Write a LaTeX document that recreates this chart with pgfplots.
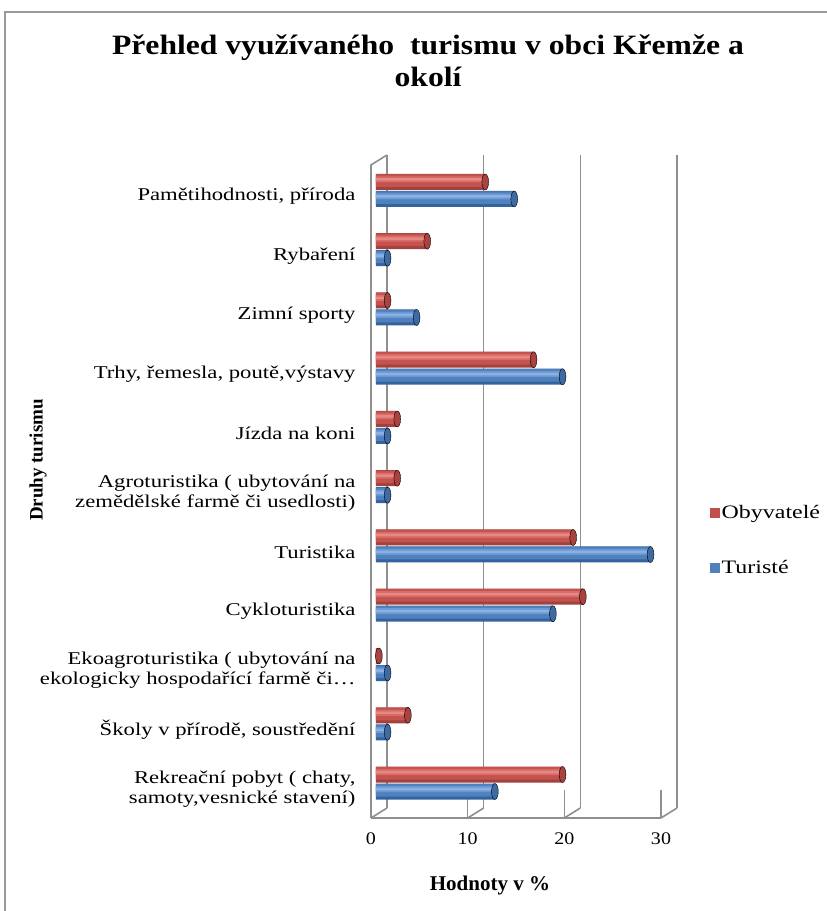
\documentclass[border=0pt]{standalone}
\usepackage{pgfplots}
\usepackage{pgfplotstable}
\pgfplotsset{compat=1.18}
\usepackage{fontspec}
\setmainfont{Liberation Serif}
\newfontfamily\labfont{Liberation Serif}[FakeStretch=1.26]
\newfontfamily\tickfont{Liberation Serif}[FakeStretch=1.13]
\newfontfamily\titlefont{Liberation Serif}[FakeStretch=1.13]

\definecolor{redA}{HTML}{A3413E}
\definecolor{redB}{HTML}{C4524F}
\definecolor{redC}{HTML}{D96B67}
\definecolor{redD}{HTML}{E68985}
\definecolor{redcap}{HTML}{A8433F}
\definecolor{blueA}{HTML}{36639D}
\definecolor{blueB}{HTML}{4F81BD}
\definecolor{blueC}{HTML}{6C99D3}
\definecolor{blueD}{HTML}{8BB1E3}
\definecolor{bluecap}{HTML}{3D6BA6}
\definecolor{gridgray}{HTML}{8F8F8F}
\definecolor{legred}{HTML}{C0504D}
\definecolor{legblue}{HTML}{4F81BD}

\pgfplotstableread{
idx obyv tur
0 19.3 12.3
1 3.3 1.2
2 0.3 1.2
3 21.4 18.3
4 20.4 28.4
5 2.2 1.2
6 2.2 1.2
7 16.3 19.3
8 1.2 4.2
9 5.3 1.2
10 11.3 14.3
}\data

\begin{document}
\begin{tikzpicture}
\useasboundingbox (0,0) rectangle (827pt,911pt);
\fill[white] (0,0) rectangle (827pt,911pt);
\draw[gray!80, line width=2pt] (4.5pt,0) -- (4.5pt,899pt) -- (827pt,899pt);
\node[font=\titlefont\bfseries\fontsize{28}{32}\selectfont, align=center] at (428pt,850pt) {Přehled využívaného~ turismu v obci Křemže a\\okolí};
\node[rotate=90, font=\bfseries\fontsize{19}{22}\selectfont] at (38pt,451pt) {Druhy turismu};
\node[font=\bfseries\fontsize{21}{24}\selectfont] at (490pt,26pt) {Hodnoty v \%};
\begin{axis}[
  at={(376pt,96pt)}, anchor=south west,
  width=290pt, height=653pt, scale only axis,
  xmin=0, xmax=30, ymin=-0.54, ymax=10.481,
  axis line style={draw=none},
  xtick={0,10,20,30}, xticklabels={0,10,20,30},
  ytick={0,1,2,3,4,5,6,7,8,9,10},
  yticklabels={{Rekreační pobyt ( chaty,\\samoty,vesnické stavení)},
    {Školy v přírodě, soustředění},
    {Ekoagroturistika ( ubytování na\\ekologicky hospodařící farmě či…},
    {Cykloturistika},
    {Turistika},
    {Agroturistika ( ubytování na\\zemědělské farmě či usedlosti)},
    {Jízda na koni},
    {Trhy, řemesla, poutě,výstavy},
    {Zimní sporty},
    {Rybaření},
    {Pamětihodnosti, příroda}},
  major tick length=0pt, tick style={draw=none},
  xticklabel style={font=\tickfont\fontsize{17.7}{20}\selectfont, xshift=-5pt, yshift=-14pt},
  yticklabel style={font=\labfont\fontsize{18}{20}\selectfont, align=right, xshift=-17pt, yshift=-6pt},
  clip=false,
  legend style={at={(1.152,0.4204)}, anchor=west, draw=none, fill=none, inner sep=0pt, row sep=36pt,
    font=\labfont\fontsize{19}{20}\selectfont},
  legend cell align=left,
]
\pgfplotsinvokeforeach{0,10,20,30}{
  \draw[gridgray, line width=1.6pt] ([xshift=11pt,yshift=7pt]axis cs:#1,-0.54) -- ([xshift=11pt,yshift=7pt]axis cs:#1,10.481);
  \draw[gridgray, line width=1.6pt] ([xshift=-5pt,yshift=-3pt]axis cs:#1,-0.54) -- ([xshift=11pt,yshift=7pt]axis cs:#1,-0.54);
  \draw[gridgray, line width=1.6pt] ([xshift=-5pt,yshift=-3pt]axis cs:#1,-0.54) -- ++(0,-4pt);
}
\draw[gridgray, line width=1.6pt] ([xshift=-5pt,yshift=-3pt]axis cs:0,-0.54) -- ([xshift=-5pt,yshift=-3pt]axis cs:30,-0.54);
\draw[gridgray, line width=1.6pt] ([xshift=-5pt,yshift=-3pt]axis cs:0,-0.54) -- ([xshift=-5pt,yshift=-3pt]axis cs:0,10.481) -- ([xshift=11pt,yshift=7pt]axis cs:0,10.481);

% Turisté (blue cylinders, layered)
\addplot[xbar, forget plot, bar width=16pt, bar shift=-8.5pt, draw=none, fill=blueA] table[x=tur, y=idx]{\data};
\addplot[xbar, forget plot, bar width=12.5pt, bar shift=-7.25pt, draw=none, fill=blueB] table[x=tur, y=idx]{\data};
\addplot[xbar, forget plot, bar width=6pt, bar shift=-6pt, draw=none, fill=blueC] table[x=tur, y=idx]{\data};
\addplot[xbar, forget plot, bar width=2.5pt, bar shift=-6pt, draw=none, fill=blueD] table[x=tur, y=idx]{\data};
\addplot[forget plot, only marks, mark=*, mark size=8pt, mark options={xscale=0.42, fill=bluecap, draw=none}] table[x=tur, y expr=\thisrow{idx}-0.1435]{\data};
% Obyvatelé (red cylinders, layered)
\addplot[xbar, forget plot, bar width=16pt, bar shift=8.5pt, draw=none, fill=redA] table[x=obyv, y=idx]{\data};
\addplot[xbar, forget plot, bar width=12.5pt, bar shift=9.75pt, draw=none, fill=redB] table[x=obyv, y=idx]{\data};
\addplot[xbar, forget plot, bar width=6pt, bar shift=11pt, draw=none, fill=redC] table[x=obyv, y=idx]{\data};
\addplot[xbar, forget plot, bar width=2.5pt, bar shift=11pt, draw=none, fill=redD] table[x=obyv, y=idx]{\data};
\addplot[forget plot, only marks, mark=*, mark size=8pt, mark options={xscale=0.42, fill=redcap, draw=none}] table[x=obyv, y expr=\thisrow{idx}+0.1435]{\data};

\addlegendimage{legend image code/.code={\fill[legred] (0pt,-4.5pt) rectangle (9pt,4.5pt);}}
\addlegendentry{Obyvatelé}
\addlegendimage{legend image code/.code={\fill[legblue] (0pt,-4.5pt) rectangle (9pt,4.5pt);}}
\addlegendentry{Turisté}
\end{axis}
\end{tikzpicture}
\end{document}
